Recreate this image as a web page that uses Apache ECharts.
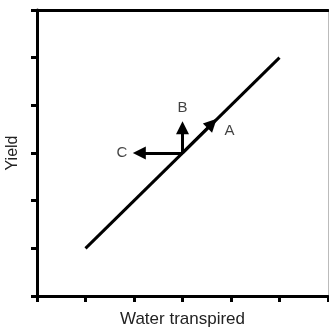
<!DOCTYPE html>
<html><head><meta charset="utf-8">
<script src="https://cdn.jsdelivr.net/npm/echarts@6/dist/echarts.min.js"></script>
<style>html,body{margin:0;padding:0;background:#fff}#c{width:329px;height:329px}</style>
</head><body><div id="c"></div>
<script>
var xTicks = [0,1,2,3,4,5,6];
var yTicks = [0,1,2,3,4,5,6];
var lineX = [1,5];
var lineY = [1,5];
var arrowNames = ['A','B','C'];
var arrowStart = [[3,3],[3,3],[3,3]];
var arrowEnd = [[3.61,3.62],[3,3.53],[2.11,3]];
var labelPos = [[3.97,3.46],[3,3.94],[1.75,3.0]];

var chart = echarts.init(document.getElementById('c'), null, {renderer:'canvas'});
var font = 'Liberation Sans, Arial, sans-serif';
chart.setOption({
  animation:false,
  grid:{left:37,right:1,top:10,bottom:33,containLabel:false,outerBoundsMode:'none'},
  xAxis:[{type:'value',min:xTicks[0],max:xTicks[xTicks.length-1],interval:1,
    name:'Water transpired',nameLocation:'middle',nameGap:15,
    nameTextStyle:{fontFamily:font,fontSize:17,color:'#222',verticalAlign:'top'},
    axisLine:{onZero:false,lineStyle:{color:'#000',width:3}},
    axisTick:{show:true,length:6,lineStyle:{color:'#000',width:3}},
    axisLabel:{show:false},splitLine:{show:false}},
   {type:'value',position:'top',min:0,max:6,
    axisLine:{onZero:false,lineStyle:{color:'#000',width:3}},
    axisTick:{show:false},axisLabel:{show:false},splitLine:{show:false}}],
  yAxis:[{type:'value',min:yTicks[0],max:yTicks[yTicks.length-1],interval:1,
    name:'Yield',nameLocation:'middle',nameGap:16,nameRotate:90,
    nameTextStyle:{fontFamily:font,fontSize:16,color:'#222'},
    axisLine:{onZero:false,lineStyle:{color:'#000',width:3}},
    axisTick:{show:true,length:6,lineStyle:{color:'#000',width:3}},
    axisLabel:{show:false},splitLine:{show:false}},
   {type:'value',position:'right',min:0,max:6,
    axisLine:{onZero:false,lineStyle:{color:'#bbb',width:1}},
    axisTick:{show:false},axisLabel:{show:false},splitLine:{show:false}}],
  series:[
    {type:'line',data:lineX.map(function(x,i){return [x,lineY[i]];}),
     symbol:'none',lineStyle:{color:'#000',width:3},z:3},
    {type:'lines',coordinateSystem:'cartesian2d',z:4,
     symbol:['none','triangle'],symbolSize:[9,13],
     lineStyle:{color:'#000',width:3,opacity:1},
     data:arrowNames.map(function(n,i){return {name:n,coords:[arrowStart[i],arrowEnd[i]]};})},
    {type:'scatter',symbolSize:0,z:5,
     data:arrowNames.map(function(n,i){return {name:n,value:labelPos[i]};}),
     label:{show:true,position:'inside',formatter:'{b}',
       fontFamily:font,fontSize:15,color:'#111'}}
  ]
});
</script></body></html>
